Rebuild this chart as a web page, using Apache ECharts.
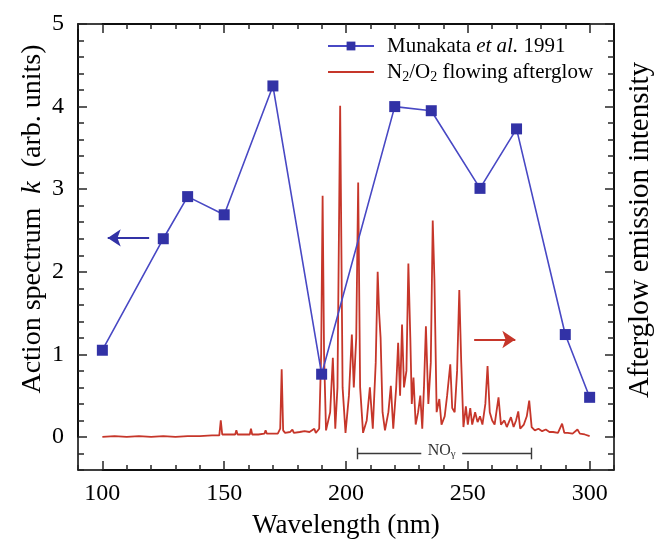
<!DOCTYPE html>
<html>
<head>
<meta charset="utf-8">
<script src="https://cdn.jsdelivr.net/npm/echarts@6/dist/echarts.min.js"></script>
<style>
html,body{margin:0;padding:0;background:#fff;}
#chart{width:656px;height:542px;}
</style>
</head>
<body>
<div id="chart"></div>
<script>
// Munakata et al. 1991 action spectrum (left axis)
const kWavelength = [100, 125, 135, 150, 170, 190, 220, 235, 255, 270, 290, 300];
const kValues     = [1.05, 2.40, 2.91, 2.69, 4.25, 0.76, 4.00, 3.95, 3.01, 3.73, 1.24, 0.48];

// N2/O2 flowing afterglow emission spectrum (right axis, same scale)
const glowWavelength = [
  100,105,110,115,120,125,130,135,140,145,148,148.6,149.2,152,154.5,155,155.5,158,160.5,161,161.5,164,166.5,167,167.5,170,172,173,173.6,174.2,175,177,178,178.6,181,183,185,187,187.6,189,
  189.8,190.4,191.0,191.8,193.5,194.6,195.6,196.5,197.6,198.6,199.8,201.2,202.4,203.2,204.2,205.0,205.8,207,208.5,209.8,211,212.2,213.0,213.6,214.2,215.0,216,217.4,218.4,219.4,
  220.6,221.4,222.2,223.0,223.8,224.8,225.6,226.4,227.0,227.7,228.6,229.6,230.5,231.3,232.0,232.8,233.8,234.8,235.6,236.3,237.2,238.3,239.2,240.5,241.5,242.8,243.6,244.6,245.6,246.5,
  247.3,248.2,249.2,250.0,251,251.8,253,254,255,256,257.2,258.1,259,260,261,262.6,263.6,265,266,267.7,268.8,269.8,270.7,271.5,273,274.2,275.2,276.2,277.5,279,
  280.5,282,283.5,285,287,288.7,289.6,291,293,295,296,298,300
];
const glowIntensity = [
  0.00,0.01,0.00,0.01,0.00,0.01,0.00,0.01,0.01,0.02,0.02,0.20,0.03,0.03,0.03,0.08,0.03,0.03,0.03,0.10,0.03,0.03,0.04,0.08,0.04,0.04,0.04,0.10,0.82,0.08,0.05,0.06,0.09,0.05,0.06,0.07,0.06,0.10,0.05,0.10,
  1.00,2.92,1.00,0.08,0.30,0.96,0.10,0.60,4.01,0.60,0.05,0.50,1.24,0.60,1.20,3.08,0.60,0.05,0.20,0.60,0.10,0.90,2.00,1.50,1.20,0.30,0.08,0.30,0.62,0.10,
  0.60,1.14,0.50,1.36,0.60,0.80,2.10,1.20,0.40,0.72,0.15,0.30,0.50,0.10,0.60,1.34,0.40,0.90,2.62,1.90,0.30,0.46,0.15,0.25,0.50,0.88,0.35,0.30,0.80,1.78,
  0.90,0.12,0.37,0.15,0.35,0.15,0.30,0.18,0.25,0.15,0.40,0.86,0.30,0.20,0.15,0.48,0.15,0.20,0.12,0.24,0.12,0.20,0.31,0.10,0.15,0.25,0.44,0.12,0.08,0.10,
  0.07,0.09,0.06,0.06,0.05,0.16,0.05,0.05,0.04,0.09,0.04,0.03,0.01
];

// Axis ranges and tick steps
const xRange = [90, 310];
const yRange = [-0.4, 5];
const xLabelRange = [100, 300];
const yLabelRange = [0, 5];
const xMajorStep = 50, xMinorStep = 10;
const yMajorStep = 1, yMinorStep = 0.2;

const FONT = 'Liberation Serif';
const BLUE_LINE = '#4848c4';
const BLUE_MARK = '#3232a6';
const RED = '#c6362a';
const TICK = '#262626';

// plot frame in pixels
const PL = 78, PR = 614, PT = 24, PB = 470;
const W = 656, H = 542;
const pxPerX = (PR - PL) / (xRange[1] - xRange[0]);
const pxPerY = (PB - PT) / (yRange[1] - yRange[0]);

const chart = echarts.init(document.getElementById('chart'));

function axis(gridIndex, pos, range, step, len, showLabel, labelMargin) {
  return {
    type: 'value', gridIndex: gridIndex, min: range[0], max: range[1], interval: step, position: pos,
    axisLine: {show: true, onZero: false, lineStyle: {color: '#000', width: 1.5}},
    axisTick: {show: true, inside: true, length: len, lineStyle: {color: TICK, width: 1.5}},
    axisLabel: {show: true, fontFamily: FONT, fontSize: 24, color: '#000', margin: labelMargin || 8,
      formatter: showLabel ? (v => String(v)) : (() => '')},
    splitLine: {show: false}
  };
}
function hiddenAxis(gridIndex, range) {
  return {type: 'value', gridIndex: gridIndex, min: range[0], max: range[1], show: false, splitLine: {show: false}};
}

const redIcon = 'path://M0,0 L0,0.01 M0,4.6 L46,4.6 L46,6.4 L0,6.4 Z M0,11 L0,11.01';

const option = {
  animation: false,
  grid: [
    {left: PL, right: W - PR, top: PT, bottom: H - PB},
    {left: PL + (xLabelRange[0] - xRange[0]) * pxPerX, right: W - PR + (xRange[1] - xLabelRange[1]) * pxPerX,
     top: PT, bottom: H - PB},
    {left: PL, right: W - PR, top: PT + (yRange[1] - yLabelRange[1]) * pxPerY,
     bottom: H - PB + (yLabelRange[0] - yRange[0]) * pxPerY}
  ],
  xAxis: [
    axis(0, 'bottom', xRange, xMinorStep, 5, false),
    axis(0, 'top', xRange, xMinorStep, 5, false),
    axis(1, 'bottom', xLabelRange, xMajorStep, 9, true, 12),
    axis(1, 'top', xLabelRange, xMajorStep, 9, false),
    hiddenAxis(2, xRange)
  ],
  yAxis: [
    axis(0, 'left', yRange, yMinorStep, 6, false),
    axis(0, 'right', yRange, yMinorStep, 6, false),
    hiddenAxis(1, yRange),
    axis(2, 'left', yLabelRange, yMajorStep, 9, true, 14),
    axis(2, 'right', yLabelRange, yMajorStep, 9, false)
  ],
  legend: {
    orient: 'vertical', left: 322, top: 29, itemGap: 0,
    itemWidth: 46, itemHeight: 11,
    data: [
      {name: 'Munakata et al. 1991'},
      {name: 'N2/O2 flowing afterglow', icon: redIcon}
    ],
    formatter: function (name) {
      return name.indexOf('Munakata') === 0 ? 'Munakata {i|et al.} 1991' : 'N{s|2}/O{s|2} flowing afterglow';
    },
    textStyle: {
      fontFamily: FONT, fontSize: 21, color: '#000', padding: [0, 0, 0, 8], lineHeight: 24,
      rich: {
        i: {fontFamily: FONT, fontSize: 21, fontStyle: 'italic', color: '#000', lineHeight: 24},
        s: {fontFamily: FONT, fontSize: 14, color: '#000', verticalAlign: 'bottom', lineHeight: 14, padding: [12, 0, 0, 0]}
      }
    }
  },
  graphic: [
    {type: 'text', x: (PL + PR) / 2, y: 526, style: {text: 'Wavelength (nm)', fontFamily: FONT, fontSize: 27, fill: '#000', align: 'center', verticalAlign: 'middle'}},
    {type: 'text', x: 33, y: 219, rotation: Math.PI / 2,
      style: {text: 'Action spectrum  {i|k}  (arb. units)', fontFamily: FONT, fontSize: 28, fill: '#000', align: 'center', verticalAlign: 'middle',
        rich: {i: {fontFamily: FONT, fontSize: 28, fontStyle: 'italic', fill: '#000'}}}},
    {type: 'text', x: 640, y: 230, rotation: Math.PI / 2,
      style: {text: 'Afterglow emission intensity', fontFamily: FONT, fontSize: 29, fill: '#000', align: 'center', verticalAlign: 'middle'}}
  ],
  series: [
    {
      name: 'N2/O2 flowing afterglow', type: 'line', xAxisIndex: 0, yAxisIndex: 0,
      data: glowWavelength.map((w, i) => [w, glowIntensity[i]]),
      symbol: 'none', lineStyle: {color: RED, width: 1.8}, itemStyle: {color: RED},
      z: 2,
      markLine: {
        silent: true, symbol: ['none', 'arrow'], symbolSize: 13,
        lineStyle: {color: RED, width: 2, type: 'solid'}, label: {show: false},
        data: [[{coord: [252.6, 1.18]}, {coord: [269.5, 1.18]}]]
      }
    },
    {
      name: 'Munakata et al. 1991', type: 'line', xAxisIndex: 0, yAxisIndex: 0,
      data: kWavelength.map((w, i) => [w, kValues[i]]),
      symbol: 'rect', symbolSize: 11, showSymbol: true,
      lineStyle: {color: BLUE_LINE, width: 1.6}, itemStyle: {color: BLUE_MARK},
      z: 3,
      markLine: {
        silent: true, symbol: ['none', 'arrow'], symbolSize: 13,
        lineStyle: {color: BLUE_MARK, width: 2, type: 'solid'}, label: {show: false},
        data: [[{coord: [119.2, 2.41]}, {coord: [102.2, 2.41]}]]
      }
    },
    {
      name: 'NOγ band', type: 'line', xAxisIndex: 0, yAxisIndex: 0, data: [],
      markLine: {
        silent: true, symbol: ['none', 'none'],
        lineStyle: {color: '#3a3a3a', width: 1.4, type: 'solid'}, label: {show: false},
        data: [
          [{coord: [204.6, -0.2]}, {coord: [230.9, -0.2]}],
          [{coord: [247.7, -0.2]}, {coord: [276.0, -0.2]}],
          [{coord: [204.6, -0.27]}, {coord: [204.6, -0.13]}],
          [{coord: [276.0, -0.27]}, {coord: [276.0, -0.13]}]
        ]
      },
      markPoint: {
        silent: true, symbol: 'circle', symbolSize: 0,
        label: {show: true, position: 'inside', formatter: 'NO{s|γ}', offset: [0, -3],
          fontFamily: FONT, fontSize: 16, color: '#333',
          rich: {s: {fontFamily: FONT, fontSize: 11, color: '#333', verticalAlign: 'bottom', padding: [8, 0, 0, 0]}}},
        data: [{coord: [239.3, -0.2]}]
      }
    }
  ]
};
chart.setOption(option);
</script>
</body>
</html>
